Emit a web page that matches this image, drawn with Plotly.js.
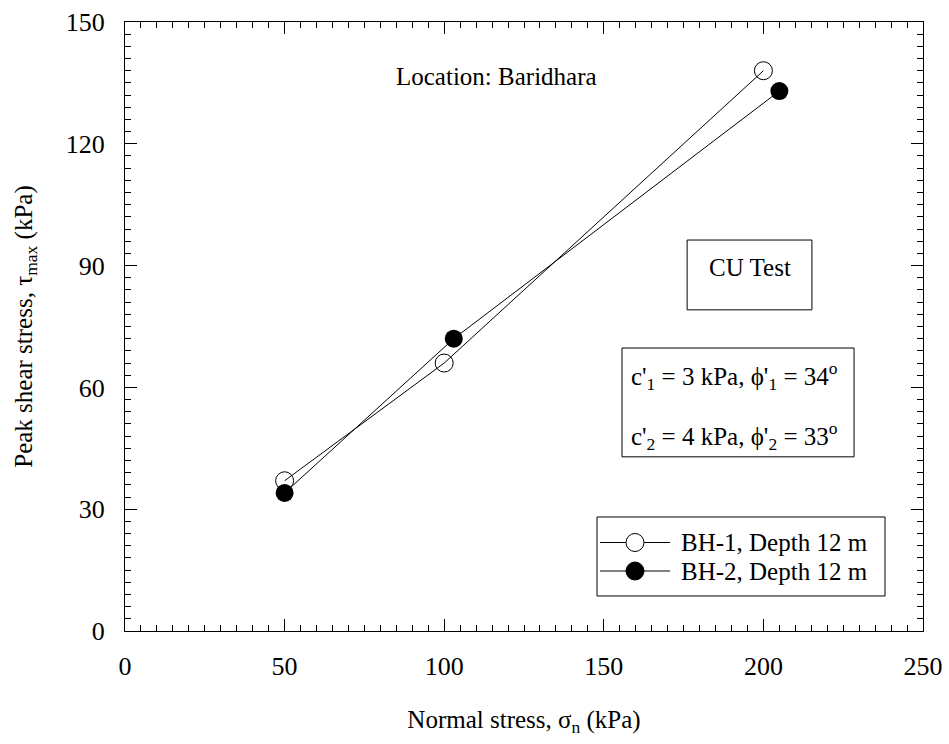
<!DOCTYPE html>
<html>
<head>
<meta charset="utf-8">
<script src="https://cdn.plot.ly/plotly-3.0.1.min.js"></script>
<style>
  html, body { margin: 0; padding: 0; background: #fff; }
  #chart { width: 949px; height: 744px; }
</style>
</head>
<body>
<div id="chart"></div>
<script>
// Direct shear (CU) test results, Baridhara
const bh1Name = 'BH-1, Depth 12 m';
const bh1Normal = [50, 100, 200];
const bh1Shear = [37, 66, 138];

const bh2Name = 'BH-2, Depth 12 m';
const bh2Normal = [50, 103, 205];
const bh2Shear = [34, 72, 133];

const xTicks = [0, 50, 100, 150, 200, 250];
const yTicks = [0, 30, 60, 90, 120, 150];

const FONT = 'Liberation Serif, Times New Roman, serif';
const TXT = 25;
const MARKER = 18;

const traces = [
  {
    x: bh1Normal, y: bh1Shear, name: bh1Name,
    mode: 'lines+markers', type: 'scatter',
    line: { color: '#000', width: 1 },
    marker: { symbol: 'circle-open', size: MARKER, color: '#000', line: { width: 1, color: '#000' } }
  },
  {
    x: bh2Normal, y: bh2Shear, name: bh2Name,
    mode: 'lines+markers', type: 'scatter',
    line: { color: '#000', width: 1 },
    marker: { symbol: 'circle', size: MARKER, color: '#000' }
  }
];

const axisCommon = {
  showgrid: false, zeroline: false,
  showline: true, linecolor: '#000', linewidth: 1,
  mirror: 'ticks', ticks: 'inside', ticklen: 12, tickwidth: 1, tickcolor: '#000',
  tickfont: { family: FONT, size: 26, color: '#000' },
  minor: { ticks: 'inside', ticklen: 6, tickwidth: 1, tickcolor: '#000', showgrid: false }
};

// Key box in paper coordinates: frame, then one row per series
const key = { x0: 0.5915, x1: 0.9524, y0: 0.0575, y1: 0.1872,
              lineX0: 0.5952, lineX1: 0.6830, symX: 0.6391, textX: 0.6942,
              rows: [0.1453, 0.0985] };

const keyEntries = [
  { name: bh1Name, fill: '#fff' },
  { name: bh2Name, fill: '#000' }
];

const shapes = [
  // "CU Test" frame
  { type: 'rect', xref: 'x', yref: 'y', x0: 176.1, x1: 215.2, y0: 79.1, y1: 96.3,
    line: { color: '#000', width: 1 }, fillcolor: 'rgba(0,0,0,0)' },
  // strength parameter frame
  { type: 'rect', xref: 'x', yref: 'y', x0: 155.7, x1: 228.4, y0: 42.9, y1: 69.7,
    line: { color: '#000', width: 1 }, fillcolor: 'rgba(0,0,0,0)' },
  // key frame
  { type: 'rect', xref: 'paper', yref: 'paper', x0: key.x0, x1: key.x1, y0: key.y0, y1: key.y1,
    line: { color: '#000', width: 1 }, fillcolor: '#fff', layer: 'above' }
];

const annotations = [
  { text: 'Location: Baridhara', x: 116.5, y: 136.5, xref: 'x', yref: 'y', showarrow: false,
    font: { family: FONT, size: TXT, color: '#000' } },
  { text: 'CU Test', x: 195.7, y: 89.6, xref: 'x', yref: 'y', showarrow: false,
    font: { family: FONT, size: TXT, color: '#000' } },
  { text: "c'<sub>1</sub> = 3 kPa, ϕ'<sub>1</sub> = 34<sup>o</sup>", x: 158.0, y: 62.8, xref: 'x', yref: 'y',
    xanchor: 'left', showarrow: false, font: { family: FONT, size: TXT, color: '#000' } },
  { text: "c'<sub>2</sub> = 4 kPa, ϕ'<sub>2</sub> = 33<sup>o</sup>", x: 158.0, y: 48.0, xref: 'x', yref: 'y',
    xanchor: 'left', showarrow: false, font: { family: FONT, size: TXT, color: '#000' } }
];

keyEntries.forEach((entry, i) => {
  const yRow = key.rows[i];
  shapes.push({ type: 'line', xref: 'paper', yref: 'paper', x0: key.lineX0, x1: key.lineX1, y0: yRow, y1: yRow,
                line: { color: '#000', width: 1 }, layer: 'above' });
  shapes.push({ type: 'circle', xref: 'paper', yref: 'paper', xsizemode: 'pixel', ysizemode: 'pixel',
                xanchor: key.symX, yanchor: yRow,
                x0: -MARKER / 2, x1: MARKER / 2, y0: -MARKER / 2, y1: MARKER / 2,
                line: { color: '#000', width: 1 }, fillcolor: entry.fill, layer: 'above' });
  annotations.push({ text: entry.name, x: key.textX, y: yRow, xref: 'paper', yref: 'paper',
                     xanchor: 'left', yanchor: 'middle', showarrow: false,
                     font: { family: FONT, size: TXT, color: '#000' } });
});

const layout = {
  width: 949, height: 744,
  paper_bgcolor: '#fff', plot_bgcolor: '#fff',
  margin: { l: 125, r: 26, t: 22, b: 113 },
  font: { family: FONT, size: TXT, color: '#000' },
  showlegend: false,
  xaxis: Object.assign({}, axisCommon, {
    range: [0, 250], tickvals: xTicks, ticktext: xTicks.map(String),
    ticklabelstandoff: 12,
    minor: Object.assign({}, axisCommon.minor, { dtick: 5, tick0: 0 }),
    title: { text: 'Normal stress, σ<sub>n</sub> (kPa)', font: { family: FONT, size: TXT, color: '#000' }, standoff: 30 }
  }),
  yaxis: Object.assign({}, axisCommon, {
    range: [0, 150], tickvals: yTicks, ticktext: yTicks.map(String),
    ticklabelstandoff: 14,
    minor: Object.assign({}, axisCommon.minor, { dtick: 3, tick0: 0 }),
    title: { text: 'Peak shear stress, τ<sub>max</sub> (kPa)', font: { family: FONT, size: TXT, color: '#000' }, standoff: 26 }
  }),
  shapes: shapes,
  annotations: annotations
};

Plotly.newPlot('chart', traces, layout, { displayModeBar: false, staticPlot: true });
</script>
</body>
</html>
